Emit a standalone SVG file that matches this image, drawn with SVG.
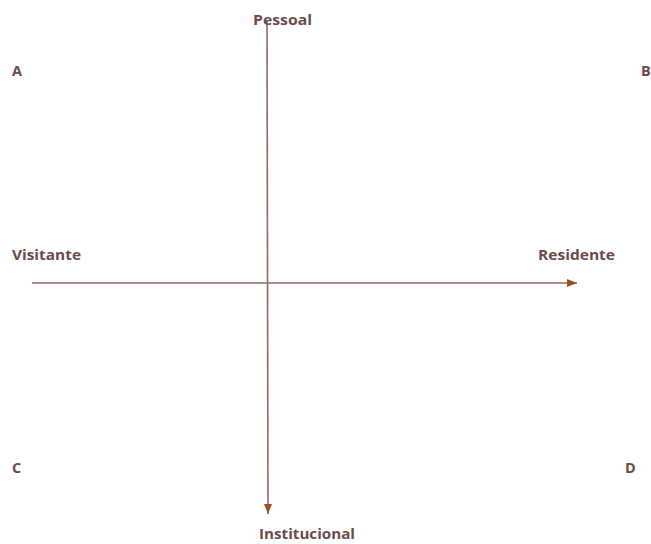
<svg xmlns="http://www.w3.org/2000/svg" width="651" height="544" viewBox="0 0 651 544">
<style>
.lbl{font-family:"Open Sans","Liberation Sans",sans-serif;font-weight:700;font-size:14.5px;fill:#6a4a4c}
.ax{stroke:#8c6a60;stroke-width:1.6;fill:none}
</style>
<defs>
<marker id="ah" viewBox="0 0 10 10" refX="10" refY="5" markerWidth="10" markerHeight="8" orient="auto" markerUnits="userSpaceOnUse" preserveAspectRatio="none">
<path d="M0,0 L10,5 L0,10 z" fill="#9a4f28"/>
</marker>
</defs>
<rect width="651" height="544" fill="#ffffff"/>
<g id="connectors">
<line class="ax" x1="32" y1="283" x2="577" y2="283" marker-end="url(#ah)"/>
<line class="ax" x1="267" y1="20" x2="268" y2="514" marker-end="url(#ah)"/>
</g>
<g id="pessoal"><text class="lbl" x="253" y="25" textLength="59" lengthAdjust="spacingAndGlyphs">Pessoal</text></g>
<g id="institucional"><text class="lbl" x="259" y="539" textLength="96" lengthAdjust="spacingAndGlyphs">Institucional</text></g>
<g id="visitante"><text class="lbl" x="12" y="260" textLength="69" lengthAdjust="spacingAndGlyphs">Visitante</text></g>
<g id="residente"><text class="lbl" x="538" y="260" textLength="77" lengthAdjust="spacingAndGlyphs">Residente</text></g>
<g id="A"><text class="lbl" x="12" y="76">A</text></g>
<g id="B"><text class="lbl" x="641" y="76">B</text></g>
<g id="C"><text class="lbl" x="12" y="473">C</text></g>
<g id="D"><text class="lbl" x="625" y="473">D</text></g>
</svg>
